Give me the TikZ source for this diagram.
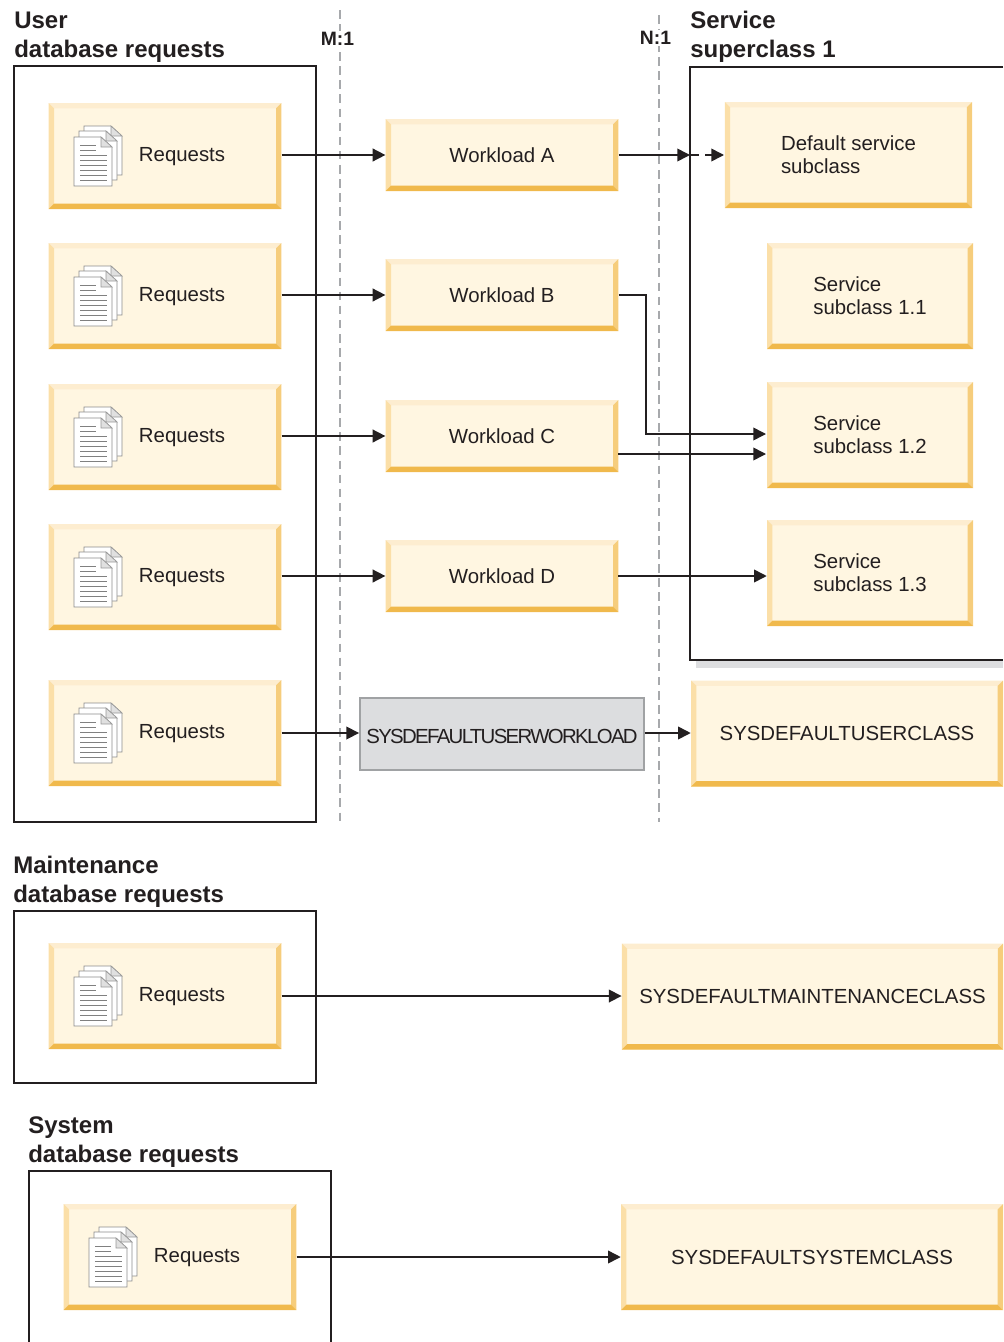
\documentclass[tikz,border=0pt]{standalone}
\usepackage{fontspec}
\setmainfont{Liberation Sans}
\usetikzlibrary{arrows.meta}
\definecolor{inkcol}{HTML}{231F20}
\definecolor{boxfill}{HTML}{FFF6E1}
\definecolor{beveltop}{HTML}{FDEDD0}
\definecolor{bevelleft}{HTML}{FBDFA8}
\definecolor{bevelright}{HTML}{F6CD7C}
\definecolor{bevelbottom}{HTML}{F0B94C}
\definecolor{greyfill}{HTML}{DCDDDF}
\definecolor{greyline}{HTML}{A0A2A4}
\definecolor{dashcol}{HTML}{A7A9AC}
\definecolor{shadowcol}{HTML}{DDDEE0}
\tikzset{
  bevelbox/.style={rectangle, fill=boxfill, text=inkcol, inner sep=0pt, align=left,
    font=\fontsize{15.3pt}{17.5pt}\selectfont,
    path picture={
      \coordinate (nw) at (path picture bounding box.north west);
      \coordinate (ne) at (path picture bounding box.north east);
      \coordinate (sw) at (path picture bounding box.south west);
      \coordinate (se) at (path picture bounding box.south east);
      \fill[beveltop] (nw) -- (ne) -- ([shift={(-4pt,-4pt)}]ne) -- ([shift={(4pt,-4pt)}]nw) -- cycle;
      \fill[bevelleft] (nw) -- (sw) -- ([shift={(4pt,4pt)}]sw) -- ([shift={(4pt,-4pt)}]nw) -- cycle;
      \fill[bevelright] (ne) -- (se) -- ([shift={(-4pt,4pt)}]se) -- ([shift={(-4pt,-4pt)}]ne) -- cycle;
      \fill[bevelbottom] (sw) -- (se) -- ([shift={(-4pt,4pt)}]se) -- ([shift={(4pt,4pt)}]sw) -- cycle;
    }},
  reqbox/.style={bevelbox, minimum width=174.5pt, minimum height=79.5pt, text width=174.5pt,
    text height=11.3pt, text depth=3.2pt, execute at begin node={\hspace*{67.7pt}}},
  wlbox/.style={bevelbox, align=center, minimum width=174.5pt, minimum height=54pt},
  subbox/.style={bevelbox, minimum width=154.5pt, minimum height=79.5pt},
  classbox/.style={bevelbox, align=center, minimum height=79.5pt},
  greybox/.style={rectangle, draw=greyline, line width=1.4pt, fill=greyfill, text=inkcol, inner sep=0pt,
    minimum width=213pt, minimum height=53.5pt, text height=14pt, text depth=0pt,
    font=\fontsize{15.3pt}{17.5pt}\selectfont},
  frame/.style={draw=inkcol, line width=1.2pt},
  grouptitle/.style={anchor=south west, inner sep=0pt, align=left, text=inkcol,
    font=\fontsize{18pt}{21.75pt}\selectfont\bfseries},
  ratiolabel/.style={fill=white, inner sep=1pt, text=inkcol, font=\fontsize{14.5pt}{17pt}\selectfont\bfseries},
  ratioline/.style={draw=dashcol, line width=1.1pt, dash pattern=on 6.5pt off 4.06pt},
  conn/.style={draw=inkcol, line width=1.2pt, -{Triangle[length=9.5pt,width=9.5pt]}},
  docpage/.pic={
    \filldraw[draw=black!45, fill=white, line width=0.5pt]
      (-91,-19) -- (-64,-19) -- (-53,-9) -- (-53,30) -- (-91,30) -- cycle;
    \filldraw[draw=black!40, fill=black!12, line width=0.5pt]
      (-64,-19) -- (-53,-9) -- (-64,-9) -- cycle;
  },
  docs/.pic={
    \pic at (10,-11) {docpage};
    \pic at (5,-6) {docpage};
    \pic at (0,0) {docpage};
    \foreach \ly in {-11,-6} \draw[black!50, line width=0.4pt] (-85,\ly) -- (-69,\ly);
    \foreach \ly in {-1,4,9,14,19,24} \draw[black!50, line width=0.4pt] (-85,\ly) -- (-58,\ly);
  }
}
\begin{document}
\begin{tikzpicture}[x=0.75pt, y=-0.75pt]
\useasboundingbox (0,0) rectangle (1003,1342);

% ratio lines
\draw[ratioline] (340,10) -- (340,822);
\draw[ratioline] (659,15) -- (659,822);
\node [ratiolabel] (mone) at (337.5,39) {M:1};
\node [ratiolabel] (none) at (655.5,38) {N:1};

% group frames
\fill[shadowcol] (696,660) rectangle (1003,668);
\draw[frame] (14,66) rectangle (316,822);
\draw[frame] (1003,67) -- (690,67) -- (690,660) -- (1003,660);
\draw[frame] (14,911) rectangle (316,1083);
\draw[frame] (29,1342) -- (29,1171) -- (331,1171) -- (331,1342);

\node [grouptitle] (tuser) at (14,63) {User\\database requests};
\node [grouptitle] (tservice) at (690,63) {Service\\superclass 1};
\node [grouptitle] (tmaint) at (13,908) {Maintenance\\database requests};
\node [grouptitle] (tsystem) at (28,1168) {System\\database requests};

% requests
\node [reqbox] (reqa) at (165,156) {Requests};
\node [reqbox] (reqb) at (165,296) {Requests};
\node [reqbox] (reqc) at (165,437) {Requests};
\node [reqbox] (reqd) at (165,577) {Requests};
\node [reqbox] (reqe) at (165,733) {Requests};
\node [reqbox] (reqm) at (165,996) {Requests};
\node [reqbox] (reqs) at (180,1257) {Requests};
\pic at (reqa) {docs};
\pic at (reqb) {docs};
\pic at (reqc) {docs};
\pic at (reqd) {docs};
\pic at (reqe) {docs};
\pic at (reqm) {docs};
\pic at (reqs) {docs};

% workloads
\node [wlbox] (wla) at (502,155) {Workload A};
\node [wlbox] (wlb) at (502,295) {Workload B};
\node [wlbox] (wlc) at (502,436) {Workload C};
\node [wlbox] (wld) at (502,576) {Workload D};
\node [greybox] (wle) at (502,734) {\addfontfeature{LetterSpace=-8.2}SYSDEFAULTUSERWORKLOAD};

% service classes
\node [subbox, minimum width=185.5pt] (subd) at (848.5,155) {Default service\\subclass};
\node [subbox] (subx) at (870,296) {Service\\subclass 1.1};
\node [subbox] (suby) at (870,435) {Service\\subclass 1.2};
\node [subbox] (subz) at (870,573) {Service\\subclass 1.3};
\node [classbox, minimum width=234pt] (cuser) at (847,733.5) {SYSDEFAULTUSERCLASS};
\node [classbox, minimum width=286pt] (cmaint) at (812.5,996.5) {SYSDEFAULTMAINTENANCECLASS};
\node [classbox, minimum width=286.5pt] (csys) at (812,1257) {SYSDEFAULTSYSTEMCLASS};

% connectors
\coordinate (superin) at (690,155);
\coordinate (turn) at (646,295);
\coordinate (yin) at (766,434);
\coordinate (cout) at (618,454);
\coordinate (cin) at (766,454);
\coordinate (dout) at (618,576);
\coordinate (dflt) at (724,155);
\draw[conn] (wla.west -| reqa.east) -- (wla.west);
\draw[conn] (wlb.west -| reqb.east) -- (wlb.west);
\draw[conn] (wlc.west -| reqc.east) -- (wlc.west);
\draw[conn] (wld.west -| reqd.east) -- (wld.west);
\draw[conn] (reqe.east) -- (reqe.east -| wle.west);
\draw[conn] (wla.east) -- (superin);
\draw[conn, dash pattern=on 6.75pt off 4.5pt on 20pt] (superin) -- (dflt);
\draw[conn] (wlb.east) -- (turn) |- (yin);
\draw[conn] (cout) -- (cin);
\draw[conn] (dout) -- (dout -| subz.west);
\draw[conn] (reqe.east -| wle.east) -- (reqe.east -| cuser.west);
\draw[conn] (reqm.east) -- (reqm.east -| cmaint.west);
\draw[conn] (reqs.east) -- (reqs.east -| csys.west);

\end{tikzpicture}
\end{document}
